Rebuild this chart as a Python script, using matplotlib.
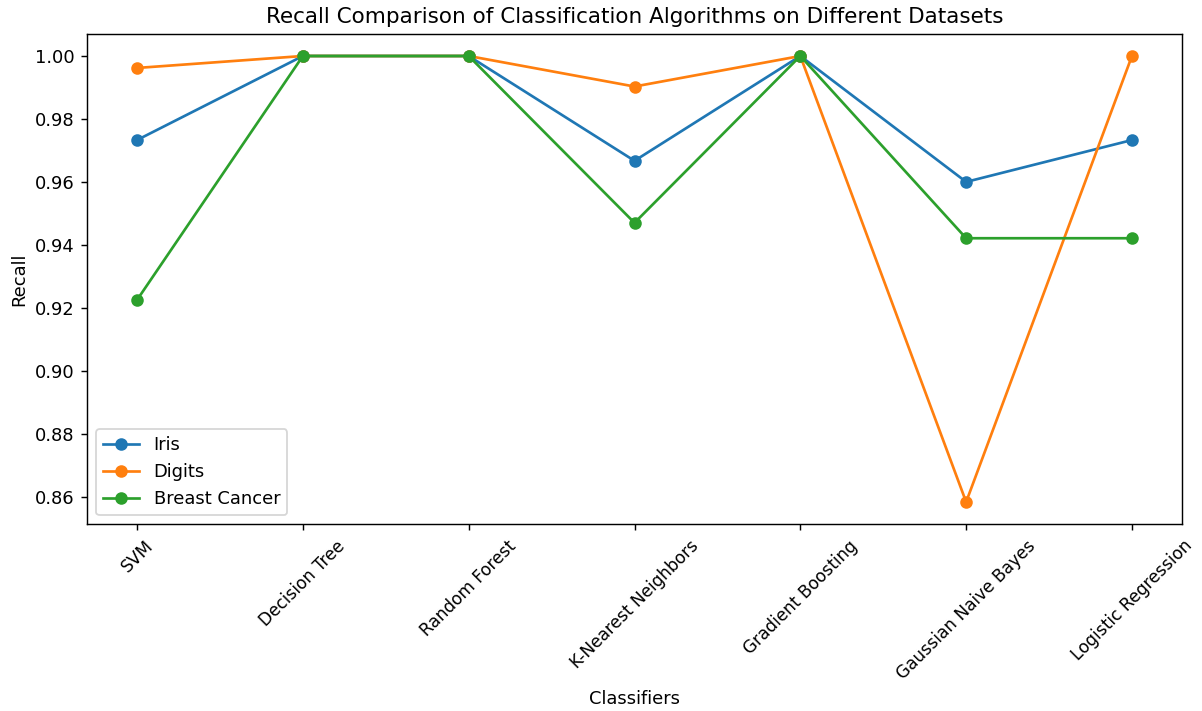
import matplotlib
matplotlib.use("Agg")
import matplotlib.pyplot as plt

classifiers = ["SVM", "Decision Tree", "Random Forest", "K-Nearest Neighbors",
               "Gradient Boosting", "Gaussian Naive Bayes", "Logistic Regression"]
iris = [0.9733, 1.0, 1.0, 0.9667, 1.0, 0.96, 0.9733]
digits = [0.9962, 1.0, 1.0, 0.9903, 1.0, 0.8583, 1.0]
breast_cancer = [0.9225, 1.0, 1.0, 0.9470, 1.0, 0.9421, 0.9421]

DPI = 129
W, H = 1202, 711
fig = plt.figure(figsize=(W / DPI, H / DPI), dpi=DPI)
left, right, top, bottom = 87.3, 1181.7, 33.7, 524.3
ax = fig.add_axes([left / W, 1 - bottom / H, (right - left) / W, (bottom - top) / H])
x = range(len(classifiers))
ax.plot(x, iris, marker="o", label="Iris")
ax.plot(x, digits, marker="o", label="Digits")
ax.plot(x, breast_cancer, marker="o", label="Breast Cancer")
ax.set_xticks(list(x))
ax.set_xticklabels(classifiers, rotation=45)
ax.tick_params(axis="x", labelsize=9.5)
ax.set_xlabel("Classifiers")
ax.set_ylabel("Recall")
ax.set_title("Recall Comparison of Classification Algorithms on Different Datasets")
ax.legend(loc="lower left")
fig.savefig("out.png", dpi=DPI)
